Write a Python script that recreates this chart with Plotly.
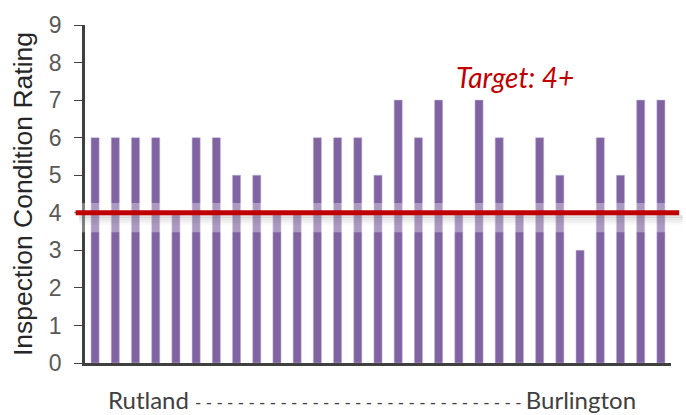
import plotly.graph_objects as go

# Data
ratings = [6, 6, 6, 6, 4, 6, 6, 5, 5, 4, 4, 6, 6, 6, 5, 7, 6, 7, 4, 7, 6, 4, 6, 5, 3, 6, 5, 7, 7]
bridges = list(range(len(ratings)))
y_ticks = [0, 1, 2, 3, 4, 5, 6, 7, 8, 9]
target = 4
target_label = "Target: 4+"
start_label = "Rutland"
end_label = "Burlington"
y_label = "Inspection Condition Rating"

x_label = (start_label + " <span style='font-size:17px'>" + "- " * 31 + "</span>" + end_label)

fig = go.Figure()
fig.add_trace(go.Bar(
    x=bridges, y=ratings,
    marker=dict(color="#8064A2", line=dict(color="rgba(190,175,215,0.9)", width=0.6)),
    showlegend=False, hoverinfo="skip",
))

# glow band around target line
fig.add_shape(type="rect", xref="paper", yref="y", x0=-0.03, x1=1.03,
              y0=target - 0.52, y1=target + 0.26,
              fillcolor="rgba(255,255,255,0.34)", line_width=0, layer="above")
for dy, a in [(0.10, 0.16), (0.16, 0.12), (0.22, 0.07), (0.28, 0.035)]:
    fig.add_shape(type="line", xref="paper", yref="y", x0=-0.01, x1=1.02,
                  y0=target - dy, y1=target - dy,
                  line=dict(color=f"rgba(90,90,90,{a})", width=3), layer="above")
fig.add_shape(type="line", xref="paper", yref="y", x0=-0.016, x1=1.014,
              y0=target, y1=target,
              line=dict(color="#C00000", width=5), layer="above")

fig.add_annotation(text=f"<i>{target_label}</i>", xref="paper", yref="paper",
                   x=(515 - 85) / 586, y=(363 - 73) / 342.5, showarrow=False,
                   font=dict(family="Lato", size=28, color="#C00000"),
                   xanchor="center", yanchor="middle")
fig.add_annotation(text=x_label, xref="paper", yref="paper",
                   x=(372 - 85) / 586, y=-(400 - 363) / 342.5, showarrow=False,
                   font=dict(family="Lato", size=24, color="#404040"),
                   xanchor="center", yanchor="middle")

fig.update_layout(
    width=686, height=415,
    margin=dict(l=85, r=15, t=20.5, b=52),
    plot_bgcolor="white", paper_bgcolor="white",
    bargap=0.6,
    xaxis=dict(range=[-0.5, len(ratings) - 0.5], showticklabels=False, ticks="",
               showgrid=False, zeroline=False, showline=True,
               linecolor="#404040", linewidth=2.5),
    yaxis=dict(range=[0, 9], tickvals=y_ticks, ticks="outside", ticklen=8,
               tickcolor="#404040", tickwidth=1.2, showgrid=False, zeroline=False,
               showline=True, linecolor="#404040", linewidth=2.5,
               tickfont=dict(family="Liberation Sans", size=23, color="#595959"),
               ticklabelstandoff=8,
               title=dict(text=y_label, standoff=9,
                          font=dict(family="Liberation Sans", size=26.5, color="#262626"))),
)

fig.write_html("out.html", config={"displayModeBar": False},
               post_script="document.body.style.margin='0';")
